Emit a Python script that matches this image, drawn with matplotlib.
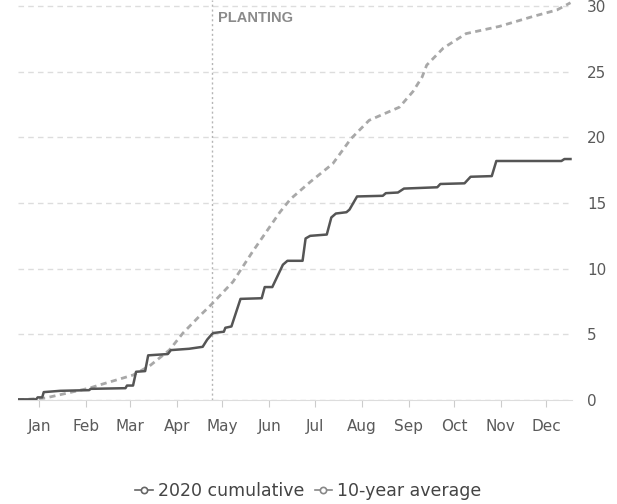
import matplotlib.pyplot as plt
from matplotlib.lines import Line2D
import pandas as pd

plt.rcParams['font.family'] = ['DejaVu Sans']

# 2020 cumulative (step-like daily series, read at break points)
dates_2020 = ["2020-01-01", "2020-01-13", "2020-01-14", "2020-01-17", "2020-01-18",
              "2020-01-29", "2020-02-17", "2020-02-18", "2020-03-12", "2020-03-13",
              "2020-03-17", "2020-03-19", "2020-03-25", "2020-03-27", "2020-04-09",
              "2020-04-11", "2020-04-23", "2020-05-02", "2020-05-05", "2020-05-08",
              "2020-05-09", "2020-05-16", "2020-05-17", "2020-05-21", "2020-05-27",
              "2020-06-10", "2020-06-12", "2020-06-17", "2020-06-24", "2020-06-27",
              "2020-07-07", "2020-07-09", "2020-07-12", "2020-07-23", "2020-07-26",
              "2020-07-29", "2020-08-05", "2020-08-07", "2020-08-12", "2020-08-29",
              "2020-08-31", "2020-09-08", "2020-09-12", "2020-10-04", "2020-10-06",
              "2020-10-22", "2020-10-26", "2020-11-09", "2020-11-12", "2020-12-25",
              "2020-12-27", "2020-12-31"]
vals_2020 = [0.05, 0.05, 0.2, 0.2, 0.6,
             0.7, 0.75, 0.85, 0.9, 1.1,
             1.1, 2.15, 2.2, 3.4, 3.5,
             3.8, 3.9, 4.05, 4.6, 5.0,
             5.1, 5.2, 5.5, 5.6, 7.7,
             7.75, 8.6, 8.6, 10.3, 10.6,
             10.6, 12.3, 12.5, 12.6, 13.9,
             14.2, 14.3, 14.5, 15.5, 15.55,
             15.75, 15.8, 16.1, 16.2, 16.45,
             16.5, 17.0, 17.05, 18.2, 18.2,
             18.35, 18.35]

# 10-year average
dates_avg = ["2020-01-01", "2020-01-19", "2020-02-17", "2020-02-24", "2020-03-17",
             "2020-03-28", "2020-04-10", "2020-04-19", "2020-04-30", "2020-05-08",
             "2020-05-22", "2020-06-04", "2020-06-22", "2020-06-29", "2020-07-12",
             "2020-07-27", "2020-08-08", "2020-08-20", "2020-09-09", "2020-09-18",
             "2020-09-24", "2020-09-27", "2020-10-08", "2020-10-23", "2020-11-14",
             "2020-12-06", "2020-12-22", "2020-12-31"]
vals_avg = [0.0, 0.15, 0.9, 1.15, 1.9,
            2.6, 3.8, 5.1, 6.4, 7.3,
            9.0, 11.3, 14.3, 15.3, 16.6,
            18.0, 19.9, 21.3, 22.3, 23.5,
            24.6, 25.5, 26.8, 27.9, 28.45,
            29.2, 29.7, 30.25]

planting_date = "2020-05-08"
month_labels = ["Jan", "Feb", "Mar", "Apr", "May", "Jun",
                "Jul", "Aug", "Sep", "Oct", "Nov", "Dec"]
y_ticks = [0, 5, 10, 15, 20, 25, 30]

# mid-month ticks
month_ticks = pd.date_range("2020-01-01", periods=12, freq="MS") + pd.Timedelta(days=14)

fig = plt.figure(figsize=(6.17, 5.04), dpi=100)
ax = fig.add_axes([18 / 617, 104 / 504, 554 / 617, 400 / 504])

x1 = pd.to_datetime(dates_2020)
x2 = pd.to_datetime(dates_avg)
ax.plot(x2, vals_avg, color="#a8a8a8", lw=2, ls=(0, (2.2, 1.6)), zorder=3)
ax.plot(x1, vals_2020, color="#555555", lw=1.8, zorder=4)

pd_plant = pd.Timestamp(planting_date)
ax.axvline(pd_plant, color="#b5b5b5", lw=1, ls=(0, (1.5, 2)), zorder=2)
ax.text(pd_plant + pd.Timedelta(days=4), 29.1, "PLANTING", fontsize=10.5,
        fontweight="bold", color="#8a8a8a", va="center", ha="left",
        family=["Liberation Sans", "DejaVu Sans"])

ax.set_yticks(y_ticks)
ax.yaxis.tick_right()
ax.yaxis.grid(True, color="#dddddd", lw=1, ls=(0, (4, 3)))
ax.set_xticks(month_ticks)
ax.set_xticklabels(month_labels)
ax.set_xlim(pd.Timestamp("2020-01-01"), pd.Timestamp("2021-01-01"))
ax.set_ylim(0, 30.46)
ax.tick_params(axis="y", length=0, pad=11, labelsize=11, labelcolor="#5a5a5a")
ax.tick_params(axis="x", length=5, color="#cccccc", pad=9, labelsize=11,
               labelcolor="#5a5a5a")
for s in ["top", "left", "right"]:
    ax.spines[s].set_visible(False)
ax.spines["bottom"].set_color("#dddddd")

handles = [Line2D([], [], color="#666666", lw=1.2, marker="o", markersize=4.5,
                  markerfacecolor="white", markeredgewidth=1.2),
           Line2D([], [], color="#888888", lw=1.2, marker="o", markersize=4.5,
                  markerfacecolor="white", markeredgewidth=1.2)]
fig.legend(handles, ["2020 cumulative", "10-year average"], loc="center",
           bbox_to_anchor=(0.5, 1 - 491 / 504), ncol=2, frameon=False,
           fontsize=12.5, handlelength=1.0, handletextpad=0.3, columnspacing=0.6,
           labelcolor="#444444")

fig.savefig("out.png", dpi=100)
